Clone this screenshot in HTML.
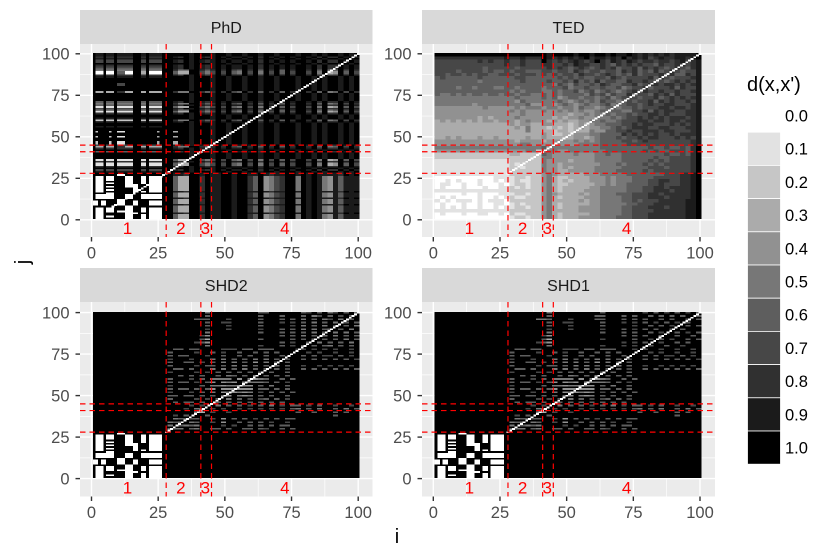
<!DOCTYPE html>
<html lang="en">
<head>
<meta charset="utf-8">
<title>d(x,x') heatmaps</title>
<style>
html,body{margin:0;padding:0;background:#fff;}
svg{display:block;font-family:"Liberation Sans",sans-serif;}
</style>
</head>
<body>
<svg id="chart" xmlns="http://www.w3.org/2000/svg" width="830" height="554" viewBox="0 0 830 554">
<text transform="translate(29,262) rotate(-90)" text-anchor="middle" font-size="20" fill="#000">j</text>
<text x="397" y="543" text-anchor="middle" font-size="20" fill="#000">i</text>
<text x="747" y="91" font-size="20" fill="#000">d(x,x')</text>
</svg>
<script>
const panelTitles = ["PhD", "TED", "SHD2", "SHD1"];
const tickBreaks = [0, 25, 50, 75, 100];
const minorBreaks = [12.5, 37.5, 62.5, 87.5];
const tickLabels = ["0", "25", "50", "75", "100"];
const regionBounds = [28, 41, 45];
const regionLabels = ["1", "2", "3", "4"];
const regionLabelCenters = [13.5, 33.5, 42.7, 72.5];
const legendValues = [0, 0.1, 0.2, 0.3, 0.4, 0.5, 0.6, 0.7, 0.8, 0.9, 1];
const legendLabels = ["0.0", "0.1", "0.2", "0.3", "0.4", "0.5", "0.6", "0.7", "0.8", "0.9", "1.0"];
const greyRamp = ["#ffffff", "#e2e2e2", "#c6c6c6", "#ababab", "#919191", "#777777", "#5e5e5e", "#474747", "#303030", "#1b1b1b", "#000000"];
const diagonalDistance = 0;
const diagonalFirstIndex = [8, 28, 28, 28];

/* Characters are d(x,x') x 10 in hex. Rows run from j=100 down to j=1.
   PhD and SHD rows: 28 one-unit columns (i=1..28), then 36 two-unit columns (i=29..100). */
const phdRowPatterns = {
  D:  "a aaa a aaa a aaa aaa aa a aa a aaaaa aa  aaaa9aaa9 aa9aa9aa9aa9aaa9aa9a9aa9a9a",
  T9: "a 999 a 999 a 999 999 aa a 99 a 99999 aa  aaaa9aaa9 aa9aa9aa9aa9aaa9aa9a9aa9a9a",
  T8: "a 888 a 888 a 888 888 aa a 88 a 88888 aa  a98a9a989 a9a99a9a8a9a9a9aa9a8a88a9a9",
  T7: "a 777 a 777 a 777 777 aa a 77 a 77777 aa  a98a9a989 a9a99a9a8a9a9a9aa9a8a88a9a9",
  T6: "a 666 a 666 a 666 666 aa a 66 a 66666 aa  a98a9a989 a9a99a9a8a9a9a9aa9a8a88a9a9",
  T5: "a 555 a 555 a 555 555 aa a 55 a 55555 aa  a855aa868 a8a76a8a6a8a6a8aa8a6a56a7a8",
  T3: "a 333 a 333 a 888 333 aa a 33 a 33333 aa  a855aa868 a8a76a8a6a8a6a8aa8a6a56a7a8",
  T2: "a 222 a 222 a 222 222 aa a 22 a 22222 aa  a855aa868 a8a76a8a6a8a6a8aa8a6a56a7a8",
  W:  "a 000 a 000 a 666 000 aa a 33 a 00000 aa  a633aa757 a7a65a7a5a7a6a7aa7a5a34a6a7",
  X:  "a 111 a 111 a 111 111 aa a 11 a 11111 aa  a633aa757 a7a65a7a5a7a6a7aa7a5a34a6a7",
  C:  "a aaa a aaa a 777 aaa aa a aa a aaaaa aa  aaaa9aaa9 aa9aa9aa9aa9aaa9aa9a9aa9a9a",
  S:  "a 2aa a a2a a 111 aaa aa a aa a aaa3a aa  a3aa9aaa9 aa9aa9aa9aa9aaa9aa9a9aa9a9a"
};
const phdTopRowKeys = ["T9","T9","T8","T9","T7","T7","D","T8","T7","T6","T5","W","W","T8","T9","D","D","D","C","C","D","D","D","T3","D","D","D","D","D","T6","T5","T6","X","T7","T5","X","T8","D","D","T9","T2","T8","D","D","T9","D","D","S","D","D","S","D","D","S","S","T7","T3","T8","D","T6","D","D","D","D","X","T8","X","X","T8","D","T7","T9"];
const phdLowRightBright = "a633aa8a9 9aa9aa86a4578aa5a9a95496999";
const phdLowRightDim = "a998aa9a9 9aa9aa99a9899aa9a9a99998a9a";
const phdLowRightKeys = ["d","d","b","b","b","b","b","b","b","b","b","d","b","b","b","d","b","b","b","d","b","b","b","b","d","b","b","b"];

const tedRows = [
"aaaaaaa aaaaaaa aaaaaaa9a aaa9a a9aa9 a99a9 89898 98999 9a",
"8888888 8888889 889888a98 98989 a8998 98a89 89789 88998 9a",
"7777777 7878778 778777a87 87898 78a87 98798 78878 87897 89",
"7777777 7777778 778777887 78798 87787 68787 87768 77887 89",
"7777777 7767777 767777787 87678 76787 86778 68787 67876 89",
"7777677 7767667 677666776 77687 67767 76878 67686 78767 79",
"7767767 6776677 767776767 67768 77678 76768 67778 78668 79",
"6766666 6766666 677666666 76767 66776 87677 77868 76777 89",
"6666666 6566666 667666676 67686 76867 76687 78767 67878 79",
"6666666 6666666 666666665 76576 67687 66778 67887 88787 89",
"6666566 5666556 656666566 67566 76676 67567 78677 78687 79",
"6666666 6666666 565666556 56675 67567 65678 68778 77877 89",
"6556565 6656656 656655656 56666 57675 76686 77687 86877 79",
"5555555 5555555 565555656 45665 66567 56777 67786 78787 89",
"5555555 5555555 546555555 65456 56576 65676 77868 78778 79",
"5555555 4555555 555644554 56545 65567 56677 67877 88777 89",
"4444444 4454444 454555455 45546 55456 65667 67778 87887 89",
"4444444 4444444 545444544 54545 44565 66557 78687 88778 89",
"4444444 4444444 445444444 44344 54556 56676 77887 87778 89",
"4444444 4343444 454444443 43445 44555 65677 87878 78887 89",
"3434343 4344344 434544434 34334 45565 56777 88788 78878 89",
"3333333 3333333 434433443 33234 34556 66778 78877 78787 89",
"3333333 3333333 343533323 23234 34455 67678 88778 87778 89",
"3333333 3333333 333533332 33233 35446 67787 78887 88777 89",
"3333333 3333333 333333432 23344 45566 66878 78787 78788 89",
"3343433 3433433 333433433 33344 34566 67677 87887 77878 79",
"4444444 4444444 434444344 44454 54566 66776 78777 77777 89",
"4444444 4444444 445544444 44445 55566 66677 77777 77777 89",
"5555555 5555555 555555645 55555 55566 66666 66766 76676 8a",
"4444444 4444444 444552455 44555 55556 66666 67676 67776 8a",
"2222222 2222222 332222654 44454 44556 55666 66666 76676 8a",
"2222222 2222222 222222554 44444 44555 55666 66676 67777 8a",
"1111111 1111111 222222544 44344 44555 55666 66767 67777 8a",
"1111111 1111111 212222544 34444 44455 56566 67676 77777 8a",
"1111111 1111111 221222544 34344 44555 55666 66777 67777 8a",
"1111111 1111111 222222544 33444 44555 56666 67677 77777 8a",
"1111111 1111111 222222454 33333 44455 55566 66666 77788 9a",
"0000000 0000111 122122453 22333 34445 45556 66677 77788 9a",
"0010100 0100101 121122453 23233 34445 45556 66778 87788 9a",
"0110010 0100010 122122453 22333 33445 45566 66778 77788 9a",
"0100010 0010011 212122453 23333 34455 55566 67788 78888 9a",
"1111111 1111111 222222453 23333 44455 55566 67788 87888 9a",
"0000010 0100011 122122454 33334 34455 56667 77887 88888 9a",
"0101000 0100101 211222453 23333 44455 55667 77888 78888 9a",
"1010111 0101110 222222453 33334 34455 55667 67778 88889 9a",
"0100010 0100110 121222453 23333 34455 55566 77788 88889 9a",
"0101010 0100101 122122453 23334 44455 55667 77888 78889 9a",
"1111111 1111111 222222453 33334 44455 55667 77788 88889 9a",
"0100010 0110010 211222453 23333 34455 55667 77888 88889 9a",
"0000000 0000000 122122453 23334 44455 56667 77888 88889 9a"
];

const blackLeftBlock = "aaaaaaaaaaaaaaaaaaaaaaaaaaaa";
const blackRightBlock = "aaaaaaaaaaaaaaaaaaaaaaaaaaaaaaaaaaaa";

const shd2TopRows = [
"aaaaaa a5aaaa aaaaa6 6aaaaa a67a6a 57a6a5",
"aaaaaa a6aaaa aaaaa6 aaa6aa a6a57a 6a7a6a",
"aaaaa6 66aaa7 aaaaa6 aaa6a6 a5a6a5 7a5a6a",
"aaaaaa a6aa77 aaaaa6 aaa7a7 a6a5a6 a5a6a6",
"aaaaaa a6aaa7 aaaaa6 aaaaa7 a5a6a5 a7a6a5",
"aaaaaa a7aaa7 aaaaa7 aaa6a6 a5a5a6 5a6a5a",
"aaaaaa a5aaaa aaaaa6 aaa6a6 a6a5a6 a5a5a6",
"aaaaaa 74aaaa aaaaaa aaa6a6 a5a6a5 a5a6a6",
"aaaaaa 63aaaa aaaaa6 aaaaa6 a6a5a6 a6a5a6",
"aaaaa7 64aaaa aaaaaa aaa6a7 aa6a5a 6a6a5a",
"aaaaaa a5aaaa aaaaa7 aaa6a7 a6a6a6 5a6a6a",
"a66a66 aaaa77 7a66a6 66aaaa 77a7a7 a7aa7a"
];
const shd1TopRows = [
"aaaaaa a5aaaa aaaaa6 aaaaaa a7a6a7 a6a7a6",
"aaaaaa a6aaaa aaaa66 aaa6a6 aa6a6a 6a6aa6",
"aaaaa5 56aaa7 aaaa66 aaa6a6 a6aa6a 6aa6a6",
"aaaaaa a6aa77 aaaaa6 aaa7a7 a6a7a6 a7a6aa",
"aaaaaa a6aaa7 aaaaa6 aaaaa7 aa6a6a 7aa6a6",
"aaaaaa a7aaa7 aaaaa7 aaa6a7 a6a6aa 6a6aaa",
"aaaaaa a5aaaa aaaaa6 aaa6a6 aa6a7a a6a7a6",
"aaaaaa 74aaaa aaaaaa aaa6a6 a6aa6a a6aa6a",
"aaaaaa 63aaaa aaaaa7 aaaaa6 aa7a6a 7aa6a6",
"aaaaa7 64aaaa aaaaaa aaa7a7 a6aa7a a6a6aa",
"aaaaaa a5aaaa aaaaa7 aaa7a7 aa6aa6 aa7aaa",
"a66a66 aaaa77 7a66a6 66aaa7 a7aa7a a7aa7a"
];
const shdMiddleRows = [
"6aaaa7 aa6a7a a6aa6a 6a6aaa aa7a7a a7aa7a",
"6a66aa a7aa6a a6a6aa 6aa6aa a6a6a7 7a6a7a",
"7aaa7a aa5a5a 6a6a5a 5a6a7a a6a6a6 a6a6a7",
"6aa66a 7a6a5a 5a6a4a 5a6a6a aaaaaa aaaaaa",
"6aaaa7 a66a6a 5a5a6a 6a5a6a a7aa7a 7a7a7a",
"a66a6a aa5a5a 6a5a6a 6a6a7a a6a6a6 a6a6a6",
"7aaaa7 a7a6a6 a6a6a6 a6aa6a aaaaaa aaaaaa",
"aa6a6a 6aa6a5 6a6a5a 6a6a6a aaaaaa aaaaaa",
"6aaa7a 6a5555 a4a545 6aa6a6 aaaaaa aaaaaa",
"6a66a7 a64a45 4a4555 6a6a7a aaaaaa aaaaaa",
"7aaaaa 6a5545 5444a6 a5aa6a aaaaaa aaaaaa",
"6a66a6 a64a44 4444a6 6a6a6a aaaaaa aaaaaa",
"7aaa7a 6a5a45 4545a7 a6a6a6 aaaaaa aaaaaa",
"66a66a 6a6a64 a545a6 a6aa6a aaaaaa aaaaaa",
"6aaaa7 a7a6a5 a6a7a7 6a6a7a aaaaaa aaaaaa",
"a6a66a 6aa6a6 a6a6a6 a6a6aa aaaaaa aaaaaa",
"aaaa7a 7aa5a6 a6a7a6 a5a7a6 6a7a6a a7aa7a",
"aaa7a5 6a7a7a a7a7a7 a7a7a6 5a6a5a a6a5a6",
"aaaaa4 3a7aa7 aaaaaa aaaaaa 6aa6aa a6a6aa",
"a7a6aa a6aaaa aaaaaa aaaaaa aaaaaa a6aaaa",
"a56666 aa7a4a 6a6a7a 6a6a66 aaaaaa aaaaaa",
"565a56 aa7a4a a6a6a6 a7aa7a aaaaaa aaaaaa",
"5a6565 aaaa7a 7aa6a6 a6a66a aaaaaa aaaaaa",
"655a65 aa66a6 aa66a6 7aa6a6 aaaaaa aaaaaa"
];
const checkerRows = [
"a aaa a aaa a aaa aaa aa a aa a aaaaa aa",
"a aaa a aaa a 000 aaa aa a aa a aaaaa aa",
"a 000 a 000 a aaa 000 aa a 00 a 00000 aa",
"a 000 a 000 a aaa 000 aa a 00 a 00000 aa",
"a 000 a 000 a aaa 000 aa a 00 a 00000 aa",
"a 000 a aaa a aaa 000 aa a 00 a 00000 aa",
"a 000 a 000 a aaa 000 aa a 00 a 00000 aa",
"a 000 a aaa a aaa 000 00 a aa a 00000 aa",
"a 000 a 000 a aaa 000 00 a aa a 00000 aa",
"a 000 a aaa a aaa aaa 00 a aa a 00000 aa",
"a 000 a 000 a aaa aaa 00 a aa a 00000 aa",
"a 000 a aaa a aaa aaa 00 a 00 a 00000 aa",
"a aaa a 000 a aaa aaa aa a aa a aaaaa aa",
"a 000 0 000 a aaa 000 aa a 00 0 00000 aa",
"a 000 0 000 a aaa 000 aa a 00 0 00000 aa",
"a 000 0 000 a aaa 000 aa a 00 0 00000 aa",
"a aaa a aaa a 000 aaa aa a aa a aaaaa aa",
"0 0a0 0 aaa a 000 aaa 00 a aa a 00000 aa",
"0 0a0 0 aaa a 000 aaa 00 a aa a 00000 aa",
"0 0a0 0 aaa a 000 aaa 00 a aa a 00000 aa",
"a aaa a aaa a aaa 000 aa a aa a aaaaa aa",
"a 000 a 000 a aaa 000 aa a 00 a 00000 aa",
"a 000 a 000 a aaa 000 aa a 00 a 00000 aa",
"a 000 a 000 a 000 000 aa a 00 a 00000 aa",
"a 000 a aaa a aaa 000 00 a aa a 00000 aa",
"a 000 a aaa a aaa 000 aa a 00 a 00000 aa",
"a 000 a 000 a aaa 000 aa a 00 a 00000 aa",
"a 000 a aaa a aaa 000 aa a 00 a 00000 aa"
];

function squeeze(s) { return s.replace(/ /g, ""); }
function widen(s) { return squeeze(s).replace(/./g, "$&$&"); }
function mixedRow(s) { const t = squeeze(s); return t.slice(0, 28) + widen(t.slice(28)); }
function shdRows(topRows) {
  const upper = topRows.concat(shdMiddleRows).flatMap(r => [blackLeftBlock + r, blackLeftBlock + blackRightBlock]);
  const lower = checkerRows.map(r => r + blackRightBlock);
  return upper.concat(lower).map(mixedRow);
}
const phdRows = phdTopRowKeys.map(k => phdRowPatterns[k])
  .concat(checkerRows.map((r, n) => r + (phdLowRightKeys[n] === "b" ? phdLowRightBright : phdLowRightDim)))
  .map(mixedRow);
const tedFullRows = tedRows.flatMap(r => [widen(r), widen(r)]);
const panelMatrices = [phdRows, tedFullRows, shdRows(shd2TopRows), shdRows(shd1TopRows)];

const panelFrames = [
  {left: 80, right: 372.5, stripTop: 10, top: 44, bottom: 237, x0: 91.5, y0: 219.8},
  {left: 422, right: 715, stripTop: 10, top: 44, bottom: 237, x0: 433.3, y0: 219.8},
  {left: 80, right: 372.5, stripTop: 268, top: 302, bottom: 496.5, x0: 91.5, y0: 478.6},
  {left: 422, right: 715, stripTop: 268, top: 302, bottom: 496.5, x0: 433.3, y0: 478.6}
];
const pxPerX = 2.667;
const pxPerY = 1.66;
const NS = "http://www.w3.org/2000/svg";
const svg = document.getElementById("chart");

function shape(tag, attrs, parent, txt) {
  const n = document.createElementNS(NS, tag);
  for (const k in attrs) n.setAttribute(k, attrs[k]);
  if (txt !== undefined) n.textContent = txt;
  parent.appendChild(n);
  return n;
}
function slug(s) { return s.toLowerCase(); }

panelFrames.forEach((f, pi) => {
  const sx = v => f.x0 + v * pxPerX;
  const sy = v => f.y0 - v * pxPerY;
  const id = slug(panelTitles[pi]);

  const g = shape("g", {}, svg);
  
  

  const strip = shape("rect", {x: f.left, y: f.stripTop, width: f.right - f.left, height: f.top - f.stripTop, fill: "#d9d9d9"}, g);
  
  

  const stripText = shape("text", {x: (f.left + f.right) / 2, y: f.stripTop + 23, "text-anchor": "middle", "font-size": 16, fill: "#1a1a1a"}, g, panelTitles[pi]);
  
  

  const bg = shape("rect", {x: f.left, y: f.top, width: f.right - f.left, height: f.bottom - f.top, fill: "#ebebeb"}, g);
  
  

  minorBreaks.forEach(v => {
    const a = shape("line", {x1: sx(v), x2: sx(v), y1: f.top, y2: f.bottom, stroke: "#fff", "stroke-width": 0.7}, g);
    
    
    const b = shape("line", {x1: f.left, x2: f.right, y1: sy(v), y2: sy(v), stroke: "#fff", "stroke-width": 0.7}, g);
    
    
  });
  tickBreaks.forEach(v => {
    const a = shape("line", {x1: sx(v), x2: sx(v), y1: f.top, y2: f.bottom, stroke: "#fff", "stroke-width": 1.4}, g);
    
    
    const b = shape("line", {x1: f.left, x2: f.right, y1: sy(v), y2: sy(v), stroke: "#fff", "stroke-width": 1.4}, g);
    
    
  });

  const cells = shape("g", {"shape-rendering": "crispEdges"}, g);
  
  
  panelMatrices[pi].forEach((row, r) => {
    const jTop = 100.5 - r;
    let start = 0;
    for (let k = 1; k <= 100; k++) {
      if (k === 100 || row[k] !== row[start]) {
        const d = parseInt(row[start], 16) / 10;
        const c = shape("rect", {x: sx(start + 0.5), y: sy(jTop), width: (k - start) * pxPerX + 0.2, height: pxPerY + 0.2, fill: greyRamp[Math.round(d * 10)]}, cells);
        
        
        start = k;
      }
    }
  });
  for (let i = diagonalFirstIndex[pi]; i <= 100; i++) {
    const c = shape("rect", {x: sx(i - 0.5), y: sy(i + 0.5), width: pxPerX + 0.2, height: pxPerY + 0.2, fill: greyRamp[Math.round(diagonalDistance * 10)]}, cells);
    
    
  }

  regionBounds.forEach(v => {
    const a = shape("line", {x1: sx(v), x2: sx(v), y1: f.top, y2: f.bottom, stroke: "#ff0000", "stroke-width": 1.2, "stroke-dasharray": "5.5 4"}, g);
    
    
    const b = shape("line", {x1: f.left, x2: f.right, y1: sy(v), y2: sy(v), stroke: "#ff0000", "stroke-width": 1.2, "stroke-dasharray": "5.5 4"}, g);
    
    
  });
  regionLabels.forEach((t, n) => {
    const a = shape("text", {x: sx(regionLabelCenters[n]), y: f.bottom - 3, "text-anchor": "middle", "font-size": 17, fill: "#ff0000"}, g, t);
    
    
  });

  tickBreaks.forEach((v, n) => {
    const a = shape("line", {x1: sx(v), x2: sx(v), y1: f.bottom, y2: f.bottom + 4.5, stroke: "#333333", "stroke-width": 1.4}, g);
    
    
    const b = shape("line", {x1: f.left - 4.5, x2: f.left, y1: sy(v), y2: sy(v), stroke: "#333333", "stroke-width": 1.4}, g);
    
    
    const c = shape("text", {x: sx(v), y: f.bottom + 21.5, "text-anchor": "middle", "font-size": 16.5, fill: "#4d4d4d"}, g, tickLabels[n]);
    
    
    const d = shape("text", {x: f.left - 10.5, y: sy(v) + 5.8, "text-anchor": "end", "font-size": 16.5, fill: "#4d4d4d"}, g, tickLabels[n]);
    
    
  });
});

const legendTop = 99, legendStep = 33.2;
legendValues.forEach((v, n) => {
  const box = shape("rect", {x: 747.5, y: legendTop + n * legendStep, width: 33, height: legendStep, fill: greyRamp[Math.round(v * 10)], stroke: "#ffffff", "stroke-width": 0.8}, svg);
  
  
  const lab = shape("text", {x: 785, y: legendTop + n * legendStep + 22.5, "font-size": 16.5, fill: "#000"}, svg, legendLabels[n]);
  
  
});
</script>
</body>
</html>
